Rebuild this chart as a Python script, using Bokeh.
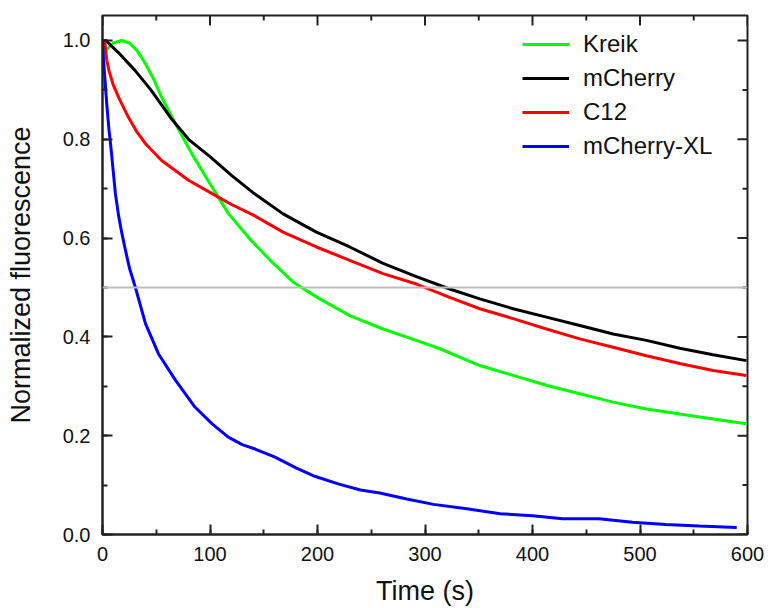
import math
from bokeh.plotting import figure
from bokeh.models import (Range1d, SingleIntervalTicker, NumeralTickFormatter,
                          Span, Legend, LegendItem)
from bokeh.embed import file_html
from bokeh.resources import INLINE

# ---- data ----
kreik_t = [0, 3, 10, 18, 25, 32, 40, 48, 55, 68, 83, 102, 117, 137.5, 156, 178, 199, 230,
           261, 292, 314, 351, 382, 413, 444, 475, 506, 537, 568, 599]
kreik_v = [0.97, 0.98, 0.995, 1.0, 0.995, 0.98, 0.953, 0.92, 0.885, 0.831, 0.771, 0.703, 0.65,
           0.597, 0.555, 0.51, 0.481, 0.443, 0.416, 0.393, 0.376, 0.342, 0.322, 0.302, 0.285,
           0.268, 0.254, 0.244, 0.234, 0.224]

mcherry_t = [0, 3, 15, 30, 45, 64.7, 80, 100, 120, 140, 168, 199, 230, 261, 292, 323, 351,
             382, 413, 444, 475, 506, 537, 568, 599]
mcherry_v = [1.0, 1.0, 0.975, 0.94, 0.9, 0.84, 0.80, 0.765, 0.727, 0.692, 0.649, 0.612,
             0.582, 0.549, 0.522, 0.497, 0.477, 0.457, 0.44, 0.423, 0.406, 0.393, 0.377,
             0.364, 0.352]

c12_t = [0, 2, 4, 6, 10, 15, 24, 32, 40, 55, 80, 102, 120, 140, 168, 199, 230, 261, 292, 323,
         351, 382, 413, 444, 475, 506, 537, 568, 599]
c12_v = [1.0, 1.0, 0.96, 0.939, 0.91, 0.885, 0.845, 0.815, 0.791, 0.757, 0.717, 0.69, 0.668,
         0.647, 0.612, 0.582, 0.555, 0.528, 0.507, 0.48, 0.457, 0.437, 0.416, 0.396, 0.379,
         0.362, 0.346, 0.332, 0.322]

xl_t = [0, 1, 2, 4, 6, 8, 10, 12, 15, 18, 21.4, 25, 30.6, 40, 52, 68, 86, 102, 117, 130, 142,
        160, 180, 196, 220, 240, 258, 283, 308, 339, 370, 400, 428, 462, 493, 524, 555, 590]
xl_v = [1.0, 0.96, 0.93, 0.87, 0.82, 0.78, 0.735, 0.69, 0.645, 0.61, 0.575, 0.54, 0.5, 0.427,
        0.366, 0.312, 0.258, 0.224, 0.197, 0.182, 0.173, 0.157, 0.135, 0.119, 0.102, 0.09,
        0.084, 0.072, 0.061, 0.052, 0.042, 0.038, 0.032, 0.032, 0.025, 0.02, 0.017, 0.014]

series_names = ["Kreik", "mCherry", "C12", "mCherry-XL"]
series_colors = ["#00ff00", "#000000", "#ff0000", "#0000ff"]
series_t = [kreik_t, mcherry_t, c12_t, xl_t]
series_v = [kreik_v, mcherry_v, c12_v, xl_v]

# tick positions (mirrored on top and right edges)
x_major_ticks = [0, 100, 200, 300, 400, 500, 600]
x_minor_ticks = [50, 150, 250, 350, 450, 550]
y_major_ticks = [0.0, 0.2, 0.4, 0.6, 0.8, 1.0]
y_minor_ticks = [0.1, 0.3, 0.5, 0.7, 0.9]

X_MAX = 600
Y_MAX = 1.0506
half_level = 0.5

FONT = "Liberation Sans"
AX = "#222222"

p = figure(width=768, height=608, x_range=Range1d(0, X_MAX), y_range=Range1d(0, Y_MAX),
           output_backend="svg", toolbar_location=None,
           min_border_left=102, min_border_right=21, min_border_top=15, min_border_bottom=74)
p.grid.visible = False
p.outline_line_color = AX
p.outline_line_width = 2
p.background_fill_color = "white"
p.border_fill_color = "white"

p.add_layout(Span(location=half_level, dimension="width", line_color="#bdbdbd", line_width=2))

renderers = []
for t, v, c in zip(series_t, series_v, series_colors):
    r = p.line(t, v, line_color=c, line_width=3)
    renderers.append(r)

# mirrored inward ticks on top and right edges (dash markers centred on the edge, clipped by the frame)
p.scatter(x_major_ticks, [Y_MAX] * len(x_major_ticks), marker="dash", size=20,
          angle=math.pi / 2, line_color=AX, line_width=2)
p.scatter(x_minor_ticks, [Y_MAX] * len(x_minor_ticks), marker="dash", size=10,
          angle=math.pi / 2, line_color=AX, line_width=2)
p.scatter([X_MAX] * len(y_major_ticks), y_major_ticks, marker="dash", size=20,
          line_color=AX, line_width=2)
p.scatter([X_MAX] * len(y_minor_ticks), y_minor_ticks, marker="dash", size=10,
          line_color=AX, line_width=2)

def style_axis(ax):
    ax.major_tick_in = 10
    ax.major_tick_out = 0
    ax.minor_tick_in = 5
    ax.minor_tick_out = 0
    ax.axis_line_color = AX
    ax.axis_line_width = 2
    ax.major_tick_line_color = AX
    ax.major_tick_line_width = 2
    ax.minor_tick_line_color = AX
    ax.minor_tick_line_width = 2
    ax.major_label_text_font = FONT
    ax.major_label_text_font_size = "20px"
    ax.major_label_text_color = "#111111"
    ax.axis_label_text_font = FONT
    ax.axis_label_text_font_size = "27px"
    ax.axis_label_text_font_style = "normal"
    ax.axis_label_text_color = "#111111"

p.xaxis.ticker = SingleIntervalTicker(interval=100, num_minor_ticks=2)
p.yaxis.ticker = SingleIntervalTicker(interval=0.2, num_minor_ticks=2)
p.xaxis.formatter = NumeralTickFormatter(format="0")
p.yaxis.formatter = NumeralTickFormatter(format="0.0")
p.xaxis.axis_label = "Time (s)"
p.yaxis.axis_label = "Normalized fluorescence"
for ax in p.xaxis + p.yaxis:
    style_axis(ax)
p.xaxis.major_label_standoff = 12
p.yaxis.major_label_standoff = 12
p.xaxis.axis_label_standoff = 12
p.yaxis.axis_label_standoff = 24

legend = Legend(items=[LegendItem(label=n, renderers=[r]) for n, r in zip(series_names, renderers)],
                location=(420, 371), padding=0, margin=0, spacing=0,
                glyph_width=47, glyph_height=34, label_height=34, label_standoff=14,
                label_text_font=FONT, label_text_font_size="24px", label_text_color="#111111",
                border_line_color=None, background_fill_alpha=0)
p.add_layout(legend, "center")

open("out.html", "w").write(file_html(p, INLINE))
